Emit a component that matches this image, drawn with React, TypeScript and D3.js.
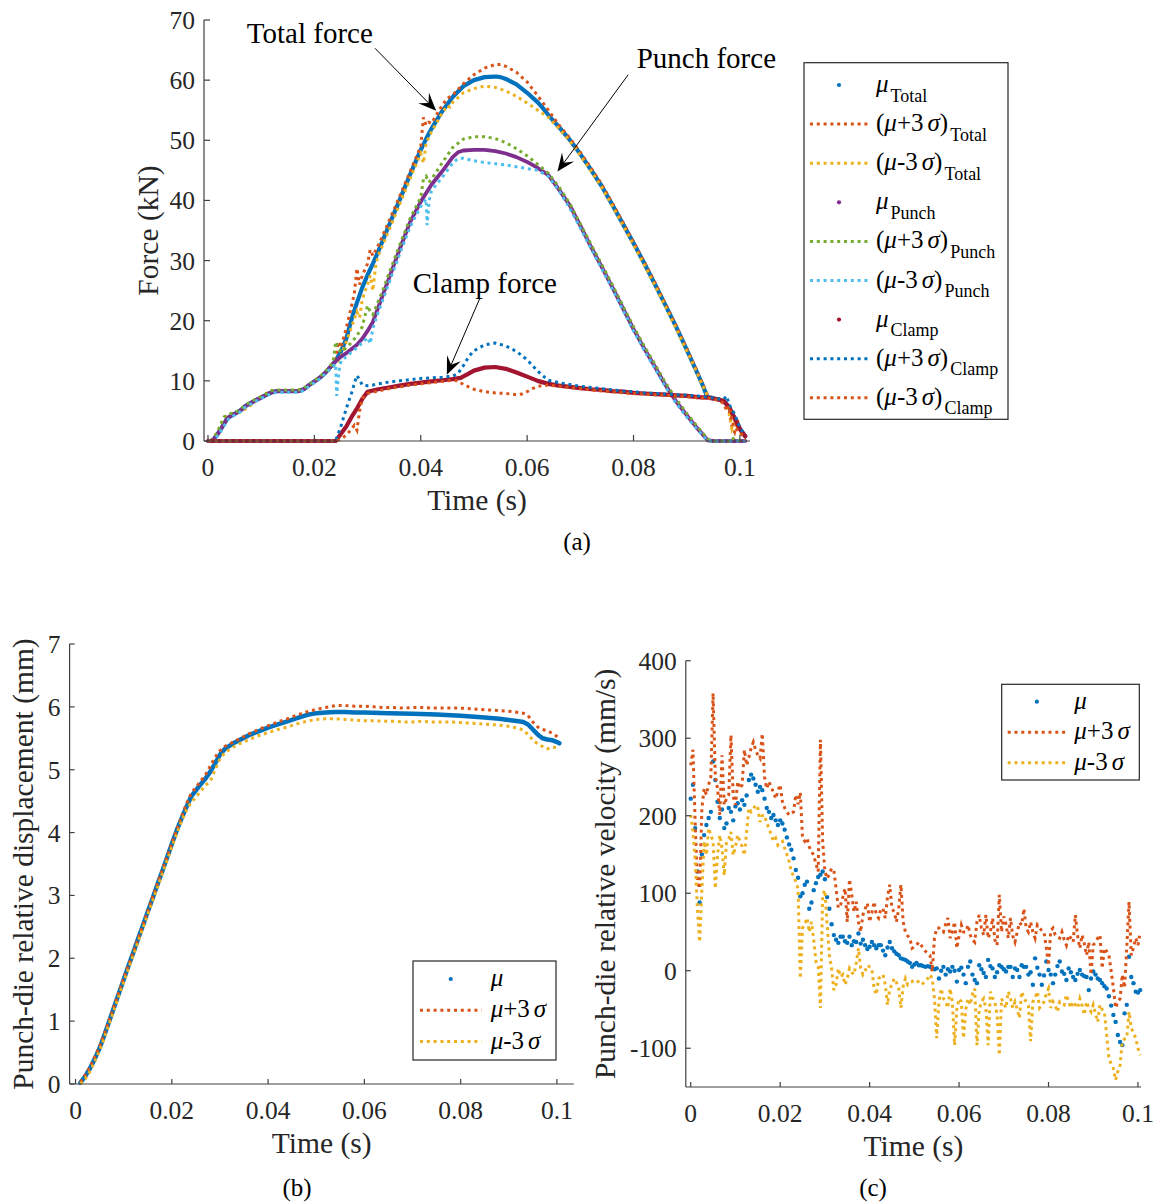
import React from "react";
import * as d3 from "d3";

type Pt = [number, number];

const FONT = "'Liberation Serif', 'Times New Roman', Times, serif";
const INK = "#262626";
const AXIS = "#404040";
const BLUE = "#0072BD";
const ORANGE = "#D95319";
const YELLOW = "#EDB120";
const PURPLE = "#7E2F8E";
const GREEN = "#77AC30";
const CYAN = "#4DBEEE";
const CRIMSON = "#A2142F";

// ---- shared time axis (values in ms, labels in s) ----
const timeTicks = [0, 20, 40, 60, 80, 100];
const timeTickLabels = ["0", "0.02", "0.04", "0.06", "0.08", "0.1"];

// ---- (a) forces: [time (ms), force (kN)] ----
const forceTicks = [0, 10, 20, 30, 40, 50, 60, 70];

const totalMean: Pt[] = [
  [0.5, 0], [1, 0.2], [2, 1.4], [3, 2.8], [3.5, 3.6], [4, 4.0], [5, 4.5], [6, 5.0], [7, 5.8], [8, 6.3],
  [9, 6.8], [10, 7.2], [11, 7.7], [12, 8.1], [13, 8.3], [15, 8.3], [17, 8.3], [18, 8.6], [19, 9.3], [20, 9.9],
  [21, 10.5], [22, 11.3], [23, 12.3], [24, 13.3], [25, 14.9], [26, 17.0], [27, 20.3], [28, 23.0], [29, 25.5],
  [30, 27.6], [31, 29.5], [32, 31.5], [34, 35.8], [36, 40.0], [38, 44.3], [40, 48.4], [41, 50.2], [42, 51.9],
  [44, 54.8], [46, 57.2], [48, 59.0], [50, 60.0], [52, 60.5], [54, 60.6], [55, 60.5], [56, 60.2], [58, 59.3],
  [60, 57.9], [62, 56.3], [63, 55.3], [64, 54.2], [66, 52.2], [68, 50.1], [70, 47.7], [72, 45.1], [74, 42.4],
  [76, 39.3], [78, 36.1], [80, 32.9], [82, 29.6], [84, 26.1], [86, 22.6], [88, 19.0], [90, 15.2], [92, 11.3],
  [93, 9.3], [93.7, 7.7], [94, 7.3], [95, 7.1], [96, 6.9], [97, 6.6], [98, 5.6], [99, 3.8], [100, 2.0], [101, 0.8],
];
const totalPlus: Pt[] = [
  [0.5, 0], [1, 0.4], [2, 1.6], [3, 3.4], [4, 4.4], [5, 4.6], [6, 5.0], [7, 5.5], [8, 6.1], [9, 6.8],
  [10, 7.4], [11, 7.9], [12, 8.2], [13, 8.4], [15, 8.4], [17, 8.4], [18, 8.7], [19, 9.3], [20, 9.9], [21, 10.6],
  [22, 11.4], [23, 12.4], [24, 13.5], [24.5, 16.5], [25, 15.5], [26, 18.8], [27, 22.5], [27.5, 24.5], [28, 28.7],
  [28.5, 26.0], [29, 27.5], [30, 29.5], [30.5, 31.8], [31, 30.8], [32, 32.5], [34, 36.5], [36, 40.6], [38, 44.8],
  [40, 49.0], [40.5, 53.8], [41, 52.5], [41.5, 53.0], [42, 52.8], [44, 55.8], [45, 57.0], [46, 57.5], [48, 59.4],
  [50, 60.9], [52, 62.0], [54, 62.6], [55, 62.6], [56, 62.3], [58, 61.3], [60, 59.7], [62, 57.4], [64, 55.0],
  [66, 52.5], [68, 50.4], [70, 48.0], [72, 45.4], [74, 42.7], [76, 39.6], [78, 36.4], [80, 33.1], [82, 29.8],
  [84, 26.4], [86, 22.8], [88, 19.2], [90, 15.4], [92, 11.5], [93, 9.5], [94, 7.5], [95, 7.2], [96, 7.0],
  [97, 6.9], [97.5, 6.5], [98, 5.0], [98.5, 2.5], [99, 1.5], [99.5, 3.5], [100, 2.0], [101, 0.5],
];
const totalMinus: Pt[] = [
  [0.5, 0], [1, 0.2], [2, 1.3], [3, 3.0], [4, 4.2], [5, 4.4], [6, 4.8], [7, 5.3], [8, 5.9], [9, 6.6],
  [10, 7.2], [11, 7.7], [12, 8.0], [13, 8.2], [15, 8.3], [17, 8.3], [18, 8.5], [19, 9.1], [20, 9.7], [21, 10.4],
  [22, 11.2], [23, 12.0], [24, 12.8], [25, 14.0], [26, 16.5], [27, 19.0], [28, 21.5], [28.5, 20.5], [29, 23.5],
  [29.5, 24.8], [30, 26.0], [30.5, 27.5], [31, 25.0], [31.5, 29.0], [32, 30.8], [34, 35.0], [36, 39.3], [38, 43.6],
  [40, 47.8], [40.5, 46.2], [41, 49.5], [42, 51.4], [44, 54.5], [45, 55.8], [45.5, 55.5], [46, 56.3], [48, 57.9],
  [50, 58.6], [52, 59.0], [54, 58.8], [56, 58.2], [58, 57.3], [60, 56.2], [62, 55.0], [64, 53.8], [66, 51.9],
  [68, 49.9], [70, 47.5], [72, 44.9], [74, 42.2], [76, 39.1], [78, 35.9], [80, 32.6], [82, 29.3], [84, 25.9],
  [86, 22.3], [88, 18.7], [90, 15.0], [92, 11.2], [93, 9.2], [94, 7.3], [95, 7.0], [96, 6.8], [97, 6.5],
  [98, 4.5], [98.5, 2.0], [99, 3.0], [100, 1.5], [101, 0.5],
];
const punchMean: Pt[] = [
  [0.5, 0], [1, 0.2], [2, 1.4], [3, 2.8], [3.5, 3.6], [4, 4.0], [5, 4.5], [6, 5.0], [7, 5.8], [8, 6.3],
  [9, 6.8], [10, 7.2], [11, 7.7], [12, 8.1], [13, 8.3], [15, 8.3], [17, 8.3], [18, 8.6], [19, 9.3], [20, 9.9],
  [21, 10.5], [22, 11.3], [23, 12.3], [24, 13.3], [25, 14.0], [26, 14.6], [27, 15.3], [28, 16.0], [29, 17.0],
  [30, 18.3], [31, 19.8], [32, 22.2], [33, 24.6], [34, 27.0], [36, 31.8], [38, 36.4], [40, 39.8], [42, 42.6],
  [44, 44.8], [46, 47.2], [47, 48.0], [48, 48.3], [50, 48.4], [52, 48.4], [54, 48.2], [56, 47.8], [58, 47.2],
  [60, 46.4], [62, 45.4], [64, 44.2], [66, 41.8], [68, 39.2], [70, 35.8], [72, 32.3], [74, 29.0], [76, 25.6],
  [78, 22.1], [80, 18.6], [82, 15.4], [84, 12.4], [86, 9.3], [88, 6.6], [90, 4.3], [92, 2.1], [94, 0.1],
  [95, 0], [101, 0],
];
const punchPlus: Pt[] = [
  [0.5, 0], [1, 0.4], [2, 2.0], [3, 4.0], [3.5, 4.2], [4, 4.5], [5, 4.7], [6, 5.2], [7, 6.0], [8, 6.5],
  [9, 7.0], [10, 7.4], [11, 7.9], [12, 8.4], [13, 8.5], [15, 8.5], [17, 8.5], [18, 8.8], [19, 9.4], [20, 10.0],
  [21, 10.7], [22, 11.5], [23, 12.5], [23.5, 13.0], [24, 16.5], [24.5, 15.5], [25, 14.8], [26, 15.5], [27, 16.4],
  [28, 17.5], [29, 19.0], [30, 22.5], [30.5, 21.5], [31, 21.0], [32, 23.2], [33, 25.4], [34, 27.8], [36, 32.5],
  [38, 37.0], [40, 40.5], [40.5, 43.5], [41, 44.0], [41.5, 43.0], [42, 43.5], [44, 46.2], [46, 48.8], [48, 50.2],
  [50, 50.6], [52, 50.6], [54, 50.3], [56, 49.6], [58, 48.6], [60, 47.4], [62, 46.0], [64, 44.5], [66, 42.2],
  [68, 39.5], [70, 36.1], [72, 32.7], [74, 29.4], [76, 26.0], [78, 22.5], [80, 19.0], [82, 15.8], [84, 12.8],
  [86, 9.7], [88, 7.0], [90, 4.6], [92, 2.4], [94, 0.3], [95, 0], [98, 0], [98.5, 0.6], [99, 0.2], [101, 0],
];
const punchMinus: Pt[] = [
  [0.5, 0], [1, 0.1], [2, 1.0], [3, 2.5], [4, 3.8], [5, 4.3], [6, 4.8], [7, 5.6], [8, 6.1], [9, 6.6],
  [10, 7.1], [11, 7.5], [12, 7.9], [13, 8.1], [15, 8.1], [17, 8.1], [18, 8.4], [19, 9.1], [20, 9.7], [21, 10.3],
  [22, 11.1], [23, 12.0], [24, 12.8], [24.2, 7.5], [24.6, 11.5], [25, 13.3], [26, 14.0], [27, 14.8], [28, 15.5],
  [29, 16.3], [30, 17.2], [30.5, 16.2], [31, 18.7], [32, 21.4], [33, 23.8], [34, 26.2], [36, 31.0], [38, 35.6],
  [40, 39.0], [41, 40.2], [41.2, 35.9], [41.6, 40.0], [42, 41.6], [44, 43.8], [46, 46.2], [47, 47.0], [48, 47.0],
  [50, 46.6], [52, 46.3], [54, 46.1], [56, 45.9], [58, 45.6], [60, 45.3], [62, 45.0], [64, 44.0], [66, 41.6],
  [68, 38.7], [70, 35.4], [72, 32.0], [74, 28.7], [76, 25.3], [78, 21.8], [80, 18.3], [82, 15.1], [84, 12.1],
  [86, 9.0], [88, 6.3], [90, 4.0], [92, 1.9], [94, 0], [101, 0],
];
const clampMean: Pt[] = [
  [0, 0], [24, 0], [25, 1.2], [26, 2.4], [27, 4.0], [28, 5.4], [29, 7.0], [30, 8.2], [32, 8.6], [34, 8.9],
  [36, 9.2], [38, 9.5], [40, 9.7], [42, 9.9], [44, 10.1], [46, 10.3], [47.5, 10.5], [49, 11.2], [50, 11.7],
  [52, 12.2], [54, 12.3], [56, 12.0], [58, 11.4], [60, 10.7], [62, 10.0], [64, 9.5], [66, 9.2], [68, 9.0],
  [70, 8.8], [72, 8.6], [74, 8.5], [76, 8.3], [78, 8.2], [80, 8.0], [82, 7.9], [84, 7.8], [86, 7.7], [88, 7.6],
  [90, 7.5], [92, 7.3], [94, 7.2], [96, 6.9], [97, 6.6], [98, 5.6], [99, 3.8], [100, 2.0], [101, 0.8],
];
const clampPlus: Pt[] = [
  [0, 0], [24, 0], [25, 2.5], [26, 5.4], [27, 8.0], [27.5, 9.5], [28, 10.9], [28.5, 10.2], [29, 9.3], [30, 9.2],
  [31, 9.3], [32, 9.5], [34, 9.8], [36, 10.0], [38, 10.2], [40, 10.4], [42, 10.5], [44, 10.6], [46, 10.8],
  [47, 11.2], [48, 12.5], [49, 14.0], [50, 15.0], [52, 16.0], [54, 16.3], [56, 15.8], [58, 14.9], [60, 13.5],
  [62, 11.6], [63, 10.8], [64, 10.1], [66, 9.7], [68, 9.4], [70, 9.1], [72, 8.9], [74, 8.7], [76, 8.5], [78, 8.3],
  [80, 8.2], [82, 8.0], [84, 7.9], [86, 7.8], [88, 7.7], [90, 7.6], [92, 7.5], [94, 7.3], [96, 7.0], [97, 7.0],
  [97.5, 7.5], [98, 6.0], [99, 4.5], [100, 2.2], [101, 1.0],
];
const clampMinus: Pt[] = [
  [0, 0], [24, 0], [25, 0.3], [26, 1.0], [27, 2.0], [27.5, 2.6], [28, 1.8], [28.5, 5.0], [29, 7.1], [30, 7.9],
  [32, 8.3], [34, 8.7], [36, 9.0], [38, 9.3], [40, 9.5], [42, 9.7], [44, 9.9], [46, 10.1], [47, 10.0], [48, 9.4],
  [49, 9.0], [50, 8.6], [52, 8.2], [54, 8.0], [56, 7.9], [58, 7.7], [59, 7.8], [60, 8.2], [61, 8.7], [62, 9.1],
  [64, 9.3], [66, 9.1], [68, 8.9], [70, 8.7], [72, 8.5], [74, 8.3], [76, 8.2], [78, 8.0], [80, 7.9], [82, 7.8],
  [84, 7.7], [86, 7.6], [88, 7.5], [90, 7.4], [92, 7.2], [94, 7.1], [96, 6.8], [97, 6.2], [97.5, 5.0], [98, 5.8],
  [98.5, 3.5], [99, 2.2], [100, 1.5], [101, 0.3],
];

// annotation arrows: text anchor, arrow start and arrow tip in data units (ms, kN)
const forceNotes = [
  { label: "Total force", text: [7.3, 66.2], from: [31.4, 65.3], tip: [42.9, 54.9] },
  { label: "Punch force", text: [80.6, 62.0], from: [79.0, 60.9], tip: [65.7, 44.8] },
  { label: "Clamp force", text: [38.5, 24.6], from: [51.1, 23.7], tip: [44.9, 11.0] },
];

// ---- (b) punch-die relative displacement: [time (ms), mm] ----
const dispTicks = [0, 1, 2, 3, 4, 5, 6, 7];
const dispMean: Pt[] = [
  [1, 0.02], [2, 0.12], [3, 0.25], [4, 0.4], [5, 0.57], [6, 0.78], [7, 1.0], [8, 1.22], [9, 1.44], [10, 1.66],
  [11, 1.88], [12, 2.09], [13, 2.31], [14, 2.52], [15, 2.74], [16, 2.95], [17, 3.17], [18, 3.38], [19, 3.6],
  [20, 3.82], [21, 4.03], [22, 4.22], [23, 4.4], [24, 4.57], [25, 4.67], [26, 4.77], [27, 4.86], [28, 4.97],
  [29, 5.1], [30, 5.24], [31, 5.33], [32, 5.38], [33, 5.43], [34, 5.47], [36, 5.55], [38, 5.61], [40, 5.67],
  [42, 5.72], [44, 5.77], [46, 5.82], [48, 5.87], [50, 5.9], [52, 5.91], [54, 5.92], [56, 5.92], [58, 5.91],
  [60, 5.91], [65, 5.9], [70, 5.89], [75, 5.88], [80, 5.86], [85, 5.83], [88, 5.81], [90, 5.79], [92, 5.77],
  [93, 5.76], [94, 5.72], [95, 5.64], [96, 5.56], [97, 5.5], [98, 5.48], [99, 5.47], [100, 5.44], [100.5, 5.42],
];
const dispPlus: Pt[] = [
  [1, 0.03], [2, 0.14], [3, 0.27], [4, 0.43], [5, 0.6], [6, 0.8], [8, 1.24], [10, 1.68], [12, 2.1], [14, 2.53],
  [16, 2.97], [18, 3.4], [20, 3.83], [22, 4.25], [23, 4.45], [24, 4.62], [25, 4.72], [26, 4.82], [27, 4.92],
  [28, 5.06], [29, 5.2], [30, 5.3], [31, 5.37], [32, 5.41], [33, 5.45], [34, 5.49], [36, 5.57], [38, 5.64],
  [40, 5.7], [42, 5.76], [44, 5.81], [46, 5.87], [48, 5.92], [50, 5.96], [52, 5.99], [54, 6.02], [56, 6.02],
  [58, 6.01], [60, 6.01], [62, 6.0], [64, 5.99], [66, 5.99], [68, 5.98], [70, 5.99], [72, 5.99], [74, 5.98],
  [76, 5.98], [78, 5.98], [80, 5.98], [82, 5.97], [84, 5.96], [86, 5.95], [88, 5.94], [90, 5.93], [92, 5.91],
  [93, 5.9], [94, 5.86], [95, 5.76], [96, 5.68], [97, 5.64], [98, 5.62], [99, 5.58], [100, 5.53], [100.5, 5.5],
];
const dispMinus: Pt[] = [
  [1, 0.0], [2, 0.08], [3, 0.2], [4, 0.36], [5, 0.53], [6, 0.74], [8, 1.18], [10, 1.62], [12, 2.05], [14, 2.48],
  [16, 2.91], [18, 3.34], [20, 3.77], [22, 4.18], [23, 4.35], [24, 4.48], [25, 4.56], [26, 4.66], [27, 4.75],
  [28, 4.82], [29, 5.0], [30, 5.17], [31, 5.27], [32, 5.32], [33, 5.37], [34, 5.41], [36, 5.48], [38, 5.54],
  [40, 5.59], [42, 5.64], [44, 5.68], [46, 5.73], [48, 5.77], [50, 5.8], [52, 5.81], [54, 5.81], [56, 5.8],
  [58, 5.79], [60, 5.78], [62, 5.78], [64, 5.77], [66, 5.77], [68, 5.76], [70, 5.76], [72, 5.77], [74, 5.76],
  [76, 5.76], [78, 5.76], [80, 5.75], [82, 5.74], [84, 5.73], [86, 5.72], [88, 5.71], [90, 5.69], [92, 5.66],
  [93, 5.63], [94, 5.56], [95, 5.47], [96, 5.41], [97, 5.37], [98, 5.33], [99, 5.36], [100, 5.35], [100.5, 5.34],
];

// ---- (c) punch-die relative velocity (mm/s), sampled every 0.5 ms from t = 0 ----
const VEL_STEP_MS = 0.5;
const velTicks = [-100, 0, 100, 200, 300, 400];
const velMean = [
  222, 240, 184, 128, 88, 150, 175, 188, 197, 205, // 0 ms
  270, 246, 218, 197, 208, 184, 190, 210, 205, 194, // 5
  212, 216, 208, 220, 214, 226, 246, 253, 248, 240, // 10
  231, 237, 233, 222, 210, 205, 197, 201, 194, 188, // 15
  194, 190, 182, 172, 163, 156, 145, 130, 120, 96, // 20
  100, 111, 115, 80, 88, 104, 113, 121, 124, 128, // 25
  118, 95, 80, 60, 46, 40, 36, 44, 44, 38, // 30
  36, 44, 33, 38, 37, 48, 35, 40, 33, 28, // 35
  31, 37, 33, 29, 33, 33, 26, 20, 30, 37, // 40
  29, 25, 22, 20, 16, 15, 14, 12, 10, 5, // 45
  8, 10, 7, 7, 6, 5, 6, 5, 3, 2, // 50
  3, -10, 0, 5, -5, 2, -1, 5, 0, -14, // 55
  1, 4, -5, -16, 5, 12, -5, -12, -16, 7, // 60
  2, -3, -8, 14, 6, 3, -8, -2, 7, 5, // 65
  2, -1, 5, 5, -8, 3, 1, -8, 7, 5, // 70
  5, -5, -2, -18, 16, 4, -5, -18, -6, 12, // 75
  1, -5, -16, -5, 6, 12, -1, -4, -12, 3, // 80
  -2, -8, -12, -4, 1, -5, -7, -8, -25, -10, // 85
  -1, -5, -10, -12, -16, -20, -23, -33, -45, -57, // 90
  -66, -83, -92, -96, -55, -44, 18, -8, -16, -27, // 95
  -28, -25, // 100
];
const velPlus = [
  265, 285, 190, 115, 106, 210, 235, 227, 240, 250, // 0 ms
  358, 250, 235, 201, 278, 214, 222, 227, 304, 225, // 5
  214, 244, 235, 240, 285, 265, 275, 287, 295, 285, // 10
  278, 274, 306, 250, 235, 244, 236, 231, 222, 232, // 15
  240, 218, 210, 205, 201, 203, 205, 227, 215, 230, // 20
  171, 167, 171, 160, 154, 149, 138, 128, 298, 167, // 25
  128, 119, 125, 132, 130, 106, 81, 85, 95, 106, // 30
  63, 118, 98, 76, 89, 63, 50, 72, 80, 87, // 35
  63, 75, 89, 72, 68, 80, 80, 68, 95, 111, // 40
  80, 76, 63, 80, 111, 63, 50, 45, 42, 29, // 45
  31, 33, 37, 33, 29, 25, 22, 20, -1, 42, // 50
  55, 55, 52, 50, 60, 68, 42, 50, 63, 29, // 55
  45, 59, 50, 50, 59, 46, 40, 37, 63, 72, // 60
  55, 46, 72, 42, 50, 68, 40, 33, 98, 50, // 65
  70, 60, 42, 68, 45, 37, 50, 62, 59, 80, // 70
  55, 50, 63, 50, 42, 59, 55, 52, 50, 30, // 75
  7, 52, 55, 46, 44, 42, 50, 40, 33, 46, // 80
  42, 37, 72, 45, 29, 46, 35, 20, 37, -5, // 85
  33, 37, 42, 46, 3, 29, 25, 20, 0, -22, // 90
  -48, -40, -36, -5, -22, 30, 89, 20, 30, 42, // 95
  33, 50, // 100
];
const velMinus = [
  201, 180, 141, 80, 37, 106, 167, 149, 184, 175, // 0 ms
  167, 106, 149, 175, 158, 123, 167, 170, 179, 149, // 5
  160, 175, 167, 160, 149, 179, 210, 205, 208, 214, // 10
  210, 192, 200, 201, 190, 184, 175, 167, 171, 162, // 15
  165, 167, 158, 150, 141, 128, 122, 115, 106, -10, // 20
  55, 60, 68, 50, 63, 40, 12, 7, -48, 98, // 25
  104, 60, 20, 3, -25, -18, 3, -8, -5, -18, // 30
  -10, 3, -2, -5, 10, 29, 3, -5, 0, 7, // 35
  5, 3, -23, -31, -10, -8, -5, -18, -44, -23, // 40
  -18, -10, -15, -23, -48, -20, -10, -18, -15, -14, // 45
  -12, -12, -15, -18, -16, -14, -10, -5, -10, -36, // 50
  -87, -40, -23, -36, -40, -48, -23, -40, -96, -50, // 55
  -36, -40, -87, -50, -36, -44, -30, -23, -96, -50, // 60
  -40, -36, -48, -96, -27, -35, -40, -57, -109, -36, // 65
  -42, -48, -27, -35, -48, -40, -50, -61, -27, -35, // 70
  -40, -45, -91, -40, -35, -27, -48, -44, -40, -30, // 75
  -23, -48, -40, -45, -53, -40, -42, -44, -31, -40, // 80
  -48, -40, -44, -48, -36, -45, -57, -40, -48, -53, // 85
  -44, -55, -66, -44, -50, -53, -83, -113, -120, -126, // 90
  -141, -130, -122, -91, -88, -87, -53, -74, -80, -87, // 95
  -100, -109, // 100
];

const toPairs = (vals: number[]): Pt[] => vals.map((v, i) => [i * VEL_STEP_MS, v]);

// ---- legends ----
const forceLegend = [
  { kind: "dot", color: BLUE, main: "μ", sub: "Total" },
  { kind: "line", color: ORANGE, main: "(μ+3σ)", sub: "Total" },
  { kind: "line", color: YELLOW, main: "(μ-3σ)", sub: "Total" },
  { kind: "dot", color: PURPLE, main: "μ", sub: "Punch" },
  { kind: "line", color: GREEN, main: "(μ+3σ)", sub: "Punch" },
  { kind: "line", color: CYAN, main: "(μ-3σ)", sub: "Punch" },
  { kind: "dot", color: CRIMSON, main: "μ", sub: "Clamp" },
  { kind: "line", color: BLUE, main: "(μ+3σ)", sub: "Clamp" },
  { kind: "line", color: ORANGE, main: "(μ-3σ)", sub: "Clamp" },
];
const statLegend = [
  { kind: "dot", color: BLUE, main: "μ", sub: "" },
  { kind: "line", color: ORANGE, main: "μ+3σ", sub: "" },
  { kind: "line", color: YELLOW, main: "μ-3σ", sub: "" },
];

const DOT = { strokeWidth: 3, strokeDasharray: "3 3.8" };
const TICK_FS = 25.5;
const TITLE_FS = 29.5;

type Scale = d3.ScaleLinear<number, number>;

function MathText({ s }: { s: string }) {
  return (
    <>
      {Array.from(s).map((ch, i) =>
        ch === "μ" || ch === "σ" ? (
          <tspan key={i} fontStyle="italic" dx={ch === "σ" ? 4 : 0}>
            {ch}
          </tspan>
        ) : (
          <tspan key={i}>{ch}</tspan>
        )
      )}
    </>
  );
}

function Frame(props: {
  x: Scale; y: Scale; yTicks: number[]; yLabels: string[];
  yTitle: string; yTitleX: number; tickLen: number;
}) {
  const { x, y, yTicks, yLabels, yTitle, yTitleX, tickLen } = props;
  const [x0, x1] = x.range();
  const [yb, yt] = y.range();
  return (
    <g fontFamily={FONT} fill={INK}>
      <line x1={x0} x2={x1} y1={yb} y2={yb} stroke={AXIS} strokeWidth={1.2} />
      <line x1={x0} x2={x0} y1={yb} y2={yt} stroke={AXIS} strokeWidth={1.2} />
      {timeTicks.map((v, i) => (
        <g key={"x" + v}>
          <line x1={x(v)} x2={x(v)} y1={yb} y2={yb - tickLen} stroke={AXIS} strokeWidth={1.2} />
          <text x={x(v)} y={yb + 35} textAnchor="middle" fontSize={TICK_FS}>
            {timeTickLabels[i]}
          </text>
        </g>
      ))}
      {yTicks.map((v, i) => (
        <g key={"y" + v}>
          <line x1={x0} x2={x0 + tickLen} y1={y(v)} y2={y(v)} stroke={AXIS} strokeWidth={1.2} />
          <text x={x0 - 9} y={y(v) + 9} textAnchor="end" fontSize={TICK_FS}>
            {yLabels[i]}
          </text>
        </g>
      ))}
      <text x={(x0 + x1) / 2} y={yb + 69} textAnchor="middle" fontSize={TITLE_FS}>
        Time (s)
      </text>
      <text
        transform={`translate(${yTitleX},${(yb + yt) / 2}) rotate(-90)`}
        textAnchor="middle"
        fontSize={TITLE_FS}
      >
        {yTitle}
      </text>
    </g>
  );
}

function Series(props: { x: Scale; y: Scale; data: Pt[]; color: string; solid?: number }) {
  const { x, y, data, color, solid } = props;
  const gen = d3.line<Pt>().x((d) => x(d[0])).y((d) => y(d[1]));
  const d = gen(data) || "";
  if (solid) {
    return <path d={d} fill="none" stroke={color} strokeWidth={solid} strokeLinejoin="round" strokeLinecap="round" />;
  }
  return <path d={d} fill="none" stroke={color} {...DOT} />;
}

function Dots(props: { x: Scale; y: Scale; data: Pt[]; color: string }) {
  const { x, y, data, color } = props;
  return (
    <g fill={color}>
      {data.map((p, i) => (
        <circle key={i} cx={x(p[0])} cy={y(p[1])} r={2.2} />
      ))}
    </g>
  );
}

function Arrow(props: { x: Scale; y: Scale; from: number[]; tip: number[] }) {
  const { x, y, from, tip } = props;
  const x1 = x(from[0]), y1 = y(from[1]);
  const x2 = x(tip[0]), y2 = y(tip[1]);
  const L = Math.hypot(x2 - x1, y2 - y1);
  const ux = (x2 - x1) / L, uy = (y2 - y1) / L;
  const px = -uy, py = ux;
  const len = 18, half = 7.5, notch = 11;
  const bx = x2 - ux * len, by = y2 - uy * len;
  const nx = x2 - ux * notch, ny = y2 - uy * notch;
  return (
    <g>
      <line x1={x1} y1={y1} x2={nx} y2={ny} stroke="#000" strokeWidth={1} />
      <path
        d={`M${x2},${y2}L${bx + px * half},${by + py * half}L${nx},${ny}L${bx - px * half},${by - py * half}Z`}
        fill="#000"
      />
    </g>
  );
}

function Legend(props: {
  items: { kind: string; color: string; main: string; sub: string }[];
  box: [number, number, number, number];
  rowY0: number; rowStep: number; lineX: [number, number]; textX: number;
}) {
  const { items, box, rowY0, rowStep, lineX, textX } = props;
  return (
    <g fontFamily={FONT} fill="#000">
      <rect x={box[0]} y={box[1]} width={box[2] - box[0]} height={box[3] - box[1]} fill="#fff" stroke={INK} strokeWidth={1.2} />
      {items.map((it, i) => {
        const cy = rowY0 + i * rowStep;
        return (
          <g key={i}>
            {it.kind === "dot" ? (
              <circle cx={(lineX[0] + lineX[1]) / 2} cy={cy} r={2.1} fill={it.color} />
            ) : (
              <line x1={lineX[0]} x2={lineX[1]} y1={cy} y2={cy} stroke={it.color} {...DOT} />
            )}
            <text x={textX} y={cy + 7} fontSize={25}>
              <MathText s={it.main} />
              {it.sub ? (
                <tspan fontSize={18} dx={2} dy={9.5}>
                  {it.sub}
                </tspan>
              ) : null}
            </text>
          </g>
        );
      })}
    </g>
  );
}

export default function App() {
  // (a) force panel scales
  const xA = d3.scaleLinear().domain([-0.75, 101.9]).range([204, 750]);
  const yA = d3.scaleLinear().domain([0, 70]).range([441, 20]);
  // (b) displacement panel scales
  const xB = d3.scaleLinear().domain([-1.23, 103.5]).range([69.6, 573.8]);
  const yB = d3.scaleLinear().domain([0, 7]).range([1084, 644]);
  // (c) velocity panel scales
  const xC = d3.scaleLinear().domain([-1.1, 100.7]).range([685.8, 1141.1]);
  const yC = d3.scaleLinear().domain([-150, 400]).range([1087, 660.7]);

  return (
    <svg
      width={1154}
      height={1202}
      viewBox="0 0 1154 1202"
      style={{ position: "absolute", left: 0, top: 0, background: "#fff" }}
    >
      <rect width={1154} height={1202} fill="#fff" />

      {/* (a) forces */}
      <Series x={xA} y={yA} data={totalMean} color={BLUE} solid={4.2} />
      <Series x={xA} y={yA} data={totalPlus} color={ORANGE} />
      <Series x={xA} y={yA} data={totalMinus} color={YELLOW} />
      <Series x={xA} y={yA} data={punchMean} color={PURPLE} solid={3.8} />
      <Series x={xA} y={yA} data={punchPlus} color={GREEN} />
      <Series x={xA} y={yA} data={punchMinus} color={CYAN} />
      <Series x={xA} y={yA} data={clampMean} color={CRIMSON} solid={4.2} />
      <Series x={xA} y={yA} data={clampPlus} color={BLUE} />
      <Series x={xA} y={yA} data={clampMinus} color={ORANGE} />
      <Frame x={xA} y={yA} yTicks={forceTicks} yLabels={forceTicks.map(String)} yTitle="Force (kN)" yTitleX={158} tickLen={6} />
      {forceNotes.map((n) => (
        <g key={n.label}>
          <Arrow x={xA} y={yA} from={n.from} tip={n.tip} />
          <text x={xA(n.text[0])} y={yA(n.text[1])} fontFamily={FONT} fontSize={29} fill="#000">
            {n.label}
          </text>
        </g>
      ))}
      <Legend items={forceLegend} box={[804, 62.7, 1008, 419.3]} rowY0={85} rowStep={39.1} lineX={[810, 868]} textX={876} />
      <text x={577} y={550} textAnchor="middle" fontFamily={FONT} fontSize={25} fill="#000">(a)</text>

      {/* (b) displacement */}
      <Series x={xB} y={yB} data={dispMean} color={BLUE} solid={4.5} />
      <Series x={xB} y={yB} data={dispPlus} color={ORANGE} />
      <Series x={xB} y={yB} data={dispMinus} color={YELLOW} />
      <Frame x={xB} y={yB} yTicks={dispTicks} yLabels={dispTicks.map(String)} yTitle="Punch-die relative displacement (mm)" yTitleX={33} tickLen={5} />
      <Legend items={statLegend} box={[413, 961, 556, 1060]} rowY0={979} rowStep={31.3} lineX={[420, 481.5]} textX={490.7} />
      <text x={297} y={1196} textAnchor="middle" fontFamily={FONT} fontSize={25} fill="#000">(b)</text>

      {/* (c) velocity */}
      <Dots x={xC} y={yC} data={toPairs(velMean)} color={BLUE} />
      <Series x={xC} y={yC} data={toPairs(velPlus)} color={ORANGE} />
      <Series x={xC} y={yC} data={toPairs(velMinus)} color={YELLOW} />
      <Frame x={xC} y={yC} yTicks={velTicks} yLabels={velTicks.map(String)} yTitle="Punch-die relative velocity (mm/s)" yTitleX={615} tickLen={5} />
      <Legend items={statLegend} box={[1001.7, 684.3, 1139.3, 780]} rowY0={701.7} rowStep={30.5} lineX={[1007.7, 1066]} textX={1074.3} />
      <text x={873} y={1196} textAnchor="middle" fontFamily={FONT} fontSize={25} fill="#000">(c)</text>
    </svg>
  );
}
